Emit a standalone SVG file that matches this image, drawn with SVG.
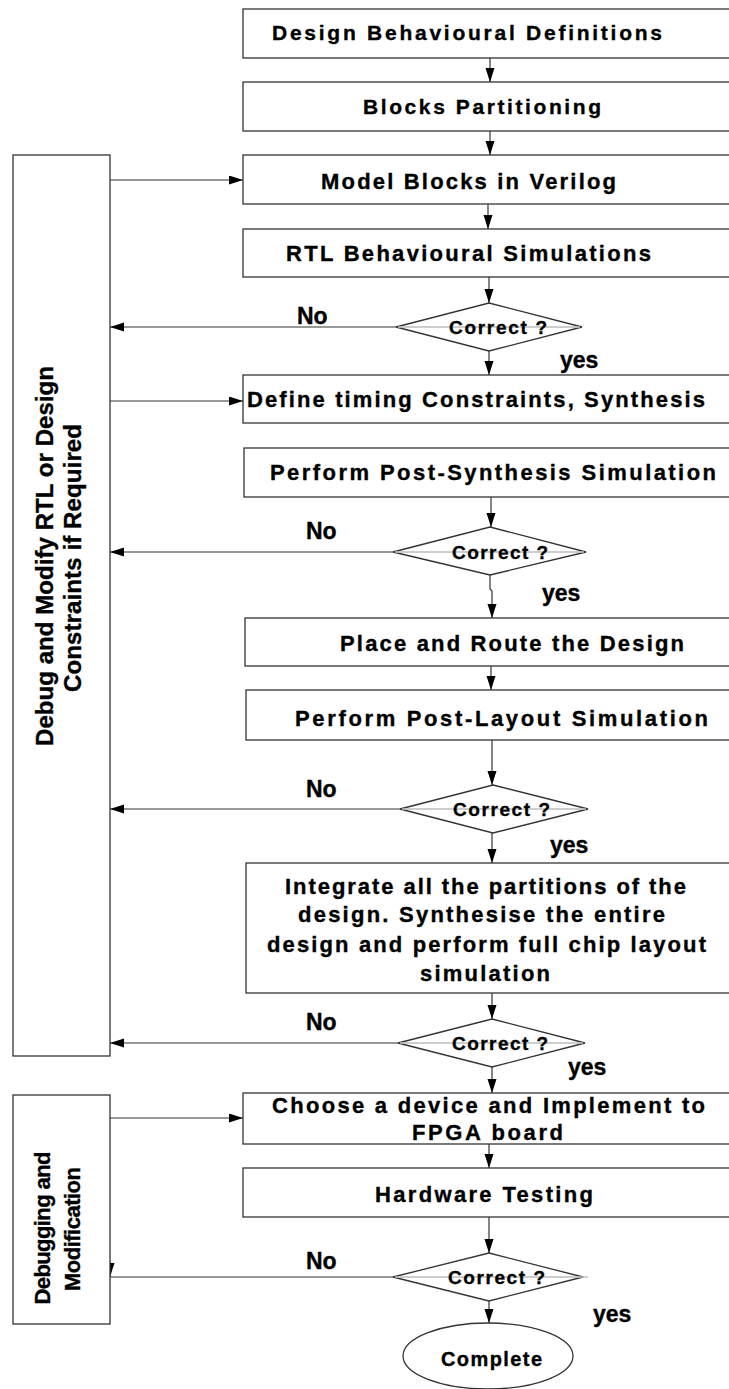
<svg xmlns="http://www.w3.org/2000/svg" width="729" height="1389" viewBox="0 0 729 1389">
  <style>
    .box { fill: #ffffff; stroke: #333333; stroke-width: 1.3; }
    .t { font-family: "Liberation Sans", Arial, sans-serif; font-weight: bold; fill: #000000; stroke: #000000; stroke-width: 0.35; }
    .lbl { font-size: 23px; }
    .dt { font-size: 19px; }
    .bt { font-size: 22px; }
    .conn { stroke: #333333; stroke-width: 1.2; fill: none; }
    .mid { stroke: #bdbdbd; stroke-width: 1.6; fill: none; }
    .arr { marker-end: url(#ah); }
  </style>
  <defs>
    <marker id="ah" markerUnits="userSpaceOnUse" markerWidth="15" markerHeight="10" refX="14" refY="4.5" orient="auto">
      <path d="M0,0 L14,4.5 L0,9 z" fill="#000000"/>
    </marker>
  </defs>

  <rect width="729" height="1389" fill="#ffffff"/>

  <!-- connectors -->
  <g id="connectors">
    <path class="conn arr" d="M490,58 V82"/>
    <path class="conn arr" d="M490,131 V155"/>
    <path class="conn arr" d="M488,204 V229"/>
    <path class="conn arr" d="M489,277 V303"/>
    <path class="conn arr" d="M489,351 V375"/>
    <path class="conn arr" d="M110,180 H243"/>
    <path class="conn arr" d="M110,401 H243"/>
    <path class="conn arr" d="M396,327 H110"/>
    <path class="conn arr" d="M491,497 V527"/>
    <path class="conn arr" d="M393,552 H110"/>
    <path class="conn arr" d="M490,575 V589 L492,591 V618"/>
    <path class="conn arr" d="M491,666 V690"/>
    <path class="conn arr" d="M492,740 V785"/>
    <path class="conn arr" d="M400,809 H110"/>
    <path class="conn arr" d="M492,833 V863"/>
    <path class="conn arr" d="M492,993 V1019"/>
    <path class="conn arr" d="M398,1043 H110"/>
    <path class="conn arr" d="M492,1067 V1093"/>
    <path class="conn arr" d="M110,1118 H243"/>
    <path class="conn arr" d="M489,1144 V1168"/>
    <path class="conn arr" d="M489,1217 V1253"/>
    <path class="conn" d="M393,1277 H110"/>
    <path class="conn arr" d="M110,1262 V1277"/>
    <path class="conn arr" d="M489,1301 V1323"/>
  </g>

  <!-- side feedback boxes -->
  <g id="debug-rtl">
    <rect class="box" x="13" y="155" width="97" height="901"/>
    <text class="t" font-size="24" text-anchor="middle" transform="translate(53,556) rotate(-90)" textLength="380">Debug and Modify RTL or Design</text>
    <text class="t" font-size="24" text-anchor="middle" transform="translate(81,558) rotate(-90)" textLength="268">Constraints if Required</text>
  </g>
  <g id="debug-hw">
    <rect class="box" x="13" y="1095" width="97" height="229"/>
    <text class="t" font-size="22" text-anchor="middle" transform="translate(50,1228) rotate(-90)" textLength="153">Debugging and</text>
    <text class="t" font-size="22" text-anchor="middle" transform="translate(80,1229) rotate(-90)" textLength="124">Modification</text>
  </g>

  <!-- process steps -->
  <g id="step-definitions">
    <rect class="box" x="243" y="9" width="500" height="49"/>
    <text class="t" font-size="21" x="272" y="40" textLength="390">Design Behavioural Definitions</text>
  </g>
  <g id="step-partitioning">
    <rect class="box" x="243" y="82" width="500" height="49"/>
    <text class="t" font-size="21" x="363" y="114" textLength="238">Blocks Partitioning</text>
  </g>
  <g id="step-verilog">
    <rect class="box" x="243" y="155" width="500" height="49"/>
    <text class="t bt" x="321" y="189" textLength="295">Model Blocks in Verilog</text>
  </g>
  <g id="step-rtl-sim">
    <rect class="box" x="243" y="229" width="500" height="48"/>
    <text class="t bt" x="286" y="261" textLength="365">RTL Behavioural Simulations</text>
  </g>
  <g id="check-rtl">
    <polygon class="box" points="489,303 582,327 489,351 396,327"/>
    <path class="mid" d="M398,327 H580"/>
    <text class="t dt" x="449" y="334" textLength="98">Correct ?</text>
    <text class="t lbl" x="297" y="324">No</text>
    <text class="t lbl" x="560" y="368">yes</text>
  </g>
  <g id="step-synthesis">
    <rect class="box" x="243" y="375" width="500" height="48"/>
    <text class="t bt" x="247" y="407" textLength="458">Define timing Constraints, Synthesis</text>
  </g>
  <g id="step-post-synth">
    <rect class="box" x="244" y="448" width="500" height="49"/>
    <text class="t bt" x="270" y="480" textLength="446">Perform Post-Synthesis Simulation</text>
  </g>
  <g id="check-post-synth">
    <polygon class="box" points="490,527 586,552 490,575 393,552"/>
    <path class="mid" d="M395,552 H584"/>
    <text class="t dt" x="452" y="559" textLength="96">Correct ?</text>
    <text class="t lbl" x="306" y="539">No</text>
    <text class="t lbl" x="542" y="601">yes</text>
  </g>
  <g id="step-place-route">
    <rect class="box" x="245" y="618" width="500" height="48"/>
    <text class="t bt" x="340" y="651" textLength="344">Place and Route the Design</text>
  </g>
  <g id="step-post-layout">
    <rect class="box" x="246" y="690" width="500" height="50"/>
    <text class="t bt" x="295" y="726" textLength="413">Perform Post-Layout Simulation</text>
  </g>
  <g id="check-post-layout">
    <polygon class="box" points="493,785 588,809 493,833 400,809"/>
    <path class="mid" d="M402,809 H586"/>
    <text class="t dt" x="453" y="816" textLength="97">Correct ?</text>
    <text class="t lbl" x="306" y="797">No</text>
    <text class="t lbl" x="550" y="853">yes</text>
  </g>
  <g id="step-integrate">
    <rect class="box" x="246" y="863" width="500" height="130"/>
    <text class="t bt" x="285" y="894" textLength="401">Integrate all the partitions of the</text>
    <text class="t bt" x="298" y="922" textLength="367">design. Synthesise the entire</text>
    <text class="t bt" x="267" y="952" textLength="439">design and perform full chip layout</text>
    <text class="t bt" x="420" y="981" textLength="130">simulation</text>
  </g>
  <g id="check-full-chip">
    <polygon class="box" points="492,1019 585,1043 492,1067 398,1043"/>
    <path class="mid" d="M400,1043 H583"/>
    <text class="t dt" x="452" y="1050" textLength="96">Correct ?</text>
    <text class="t lbl" x="306" y="1030">No</text>
    <text class="t lbl" x="568" y="1075">yes</text>
  </g>
  <g id="step-fpga">
    <rect class="box" x="243" y="1093" width="500" height="51"/>
    <text class="t bt" x="272" y="1113" textLength="433">Choose a device and Implement to</text>
    <text class="t bt" x="412" y="1140" textLength="151">FPGA board</text>
  </g>
  <g id="step-hw-test">
    <rect class="box" x="243" y="1168" width="500" height="49"/>
    <text class="t bt" x="375" y="1202" textLength="218">Hardware Testing</text>
  </g>
  <g id="check-hw">
    <polygon class="box" points="489,1253 583,1277 489,1301 393,1277"/>
    <path class="mid" d="M395,1277 H588"/>
    <text class="t dt" x="448" y="1284" textLength="97">Correct ?</text>
    <text class="t lbl" x="306" y="1269">No</text>
    <text class="t lbl" x="593" y="1322">yes</text>
  </g>
  <g id="complete">
    <ellipse class="box" cx="488" cy="1356" rx="85" ry="33"/>
    <text class="t" font-size="20" x="441" y="1366" textLength="101">Complete</text>
  </g>
</svg>
